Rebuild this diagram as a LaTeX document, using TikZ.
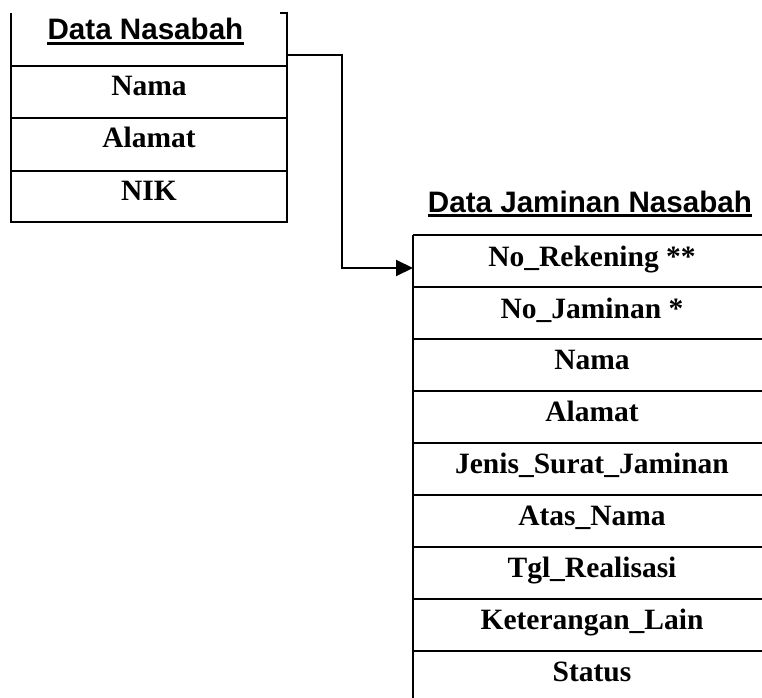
\documentclass[tikz,border=0pt]{standalone}
\usepackage{fontspec}
\setmainfont{Liberation Serif}
\newfontfamily\arialfont{Liberation Sans}
\usetikzlibrary{arrows.meta}
\tikzset{
  fld/.style={anchor=base, inner sep=0pt, font=\fontsize{29.5bp}{31bp}\selectfont\bfseries},
  ttl/.style={anchor=base, inner sep=0pt, font=\fontsize{29.6bp}{31bp}\selectfont\arialfont\bfseries},
  uline/.style={line width=2.6bp},
  tline/.style={line width=1.3bp},
  conn/.style={line width=2bp, -{Triangle[length=17bp,width=16bp]}}
}
\begin{document}
\begin{tikzpicture}[x=1bp,y=1bp]
\useasboundingbox (0,0) rectangle (762,-698);
% left table
\draw[tline] (280,-13) -- (287,-13) -- (287,-222) -- (11,-222) -- (11,-13);
\foreach \yy in {66,118,171} \draw[tline] (11,-\yy) -- (287,-\yy);
\node[ttl] (t1) at (145.5,-40) {Data Nasabah};
\draw[uline] ([yshift=-3.5bp]t1.base west) -- ([yshift=-3.5bp]t1.base east);
\node[fld] (l1) at (149,-96) {Nama};
\node[fld] (l2) at (149,-148) {Alamat};
\node[fld] (l3) at (149,-200) {NIK};
% right table
\node[ttl] (t2) at (590,-212) {Data Jaminan Nasabah};
\draw[uline] ([yshift=-3.5bp]t2.base west) -- ([yshift=-3.5bp]t2.base east);
\draw[tline] (413,-235) -- (413,-698);
\foreach \yy in {235,287,339,391,443,495,547,599,651} \draw[tline] (413,-\yy) -- (762,-\yy);
\node[fld] (r1) at (592,-266) {No\_Rekening **};
\node[fld] (r2) at (592,-318) {No\_Jaminan *};
\node[fld] (r3) at (592,-369) {Nama};
\node[fld] (r4) at (592,-421) {Alamat};
\node[fld] (r5) at (592,-473) {Jenis\_Surat\_Jaminan};
\node[fld] (r6) at (592,-525) {Atas\_Nama};
\node[fld] (r7) at (592,-577) {Tgl\_Realisasi};
\node[fld] (r8) at (592,-629) {Keterangan\_Lain};
\node[fld] (r9) at (592,-681) {Status};
% connector
\coordinate (cs) at (287,-55);
\coordinate (ce) at (413,-268);
\draw[conn] (cs) -- ++(55,0) |- (ce);
\end{tikzpicture}
\end{document}
